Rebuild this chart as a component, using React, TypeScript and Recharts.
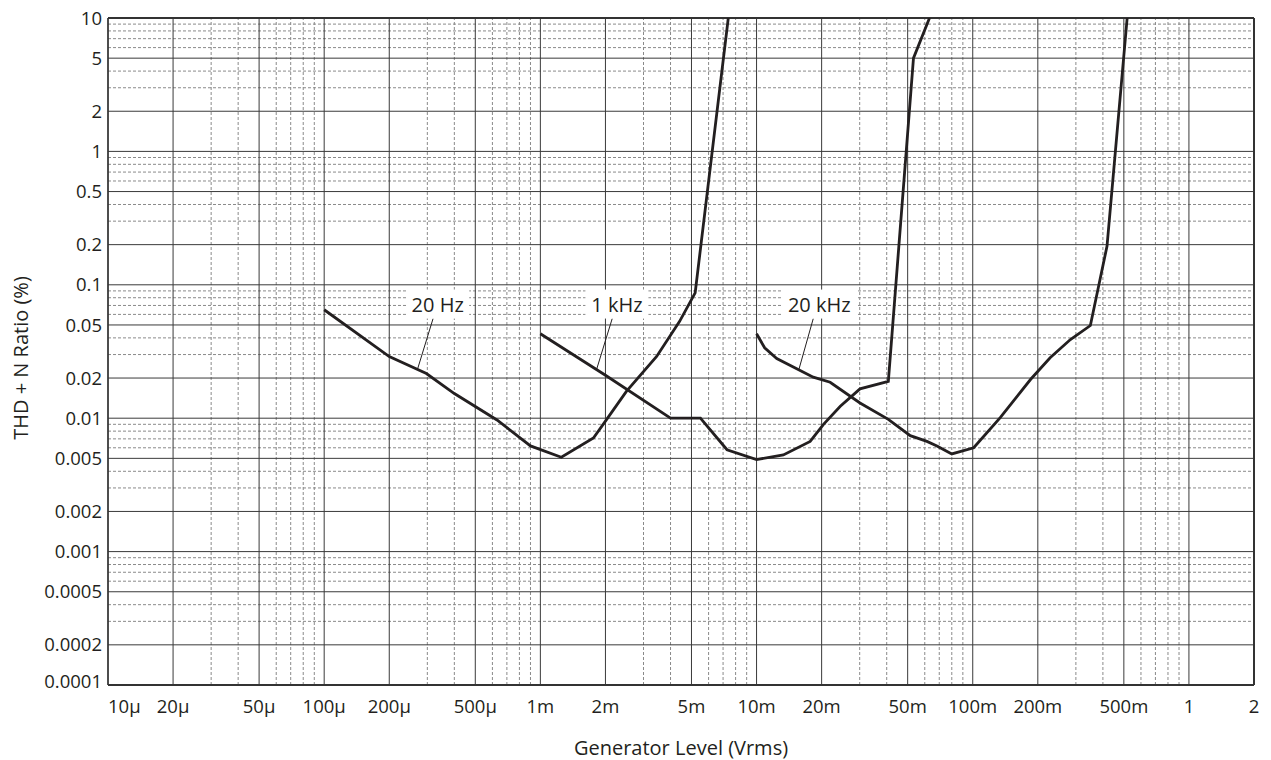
import React from "react";
import { LineChart, Line, XAxis, YAxis, ReferenceLine, ReferenceDot, Label } from "recharts";

// axis ticks (log-log)
const xTicks = [1e-5, 2e-5, 5e-5, 1e-4, 2e-4, 5e-4, 1e-3, 2e-3, 5e-3, 1e-2, 2e-2, 5e-2, 0.1, 0.2, 0.5, 1, 2];
const xTickLabels = ["10µ", "20µ", "50µ", "100µ", "200µ", "500µ", "1m", "2m", "5m", "10m", "20m", "50m", "100m", "200m", "500m", "1", "2"];
const yTicks = [1e-4, 2e-4, 5e-4, 1e-3, 2e-3, 5e-3, 0.01, 0.02, 0.05, 0.1, 0.2, 0.5, 1, 2, 5, 10];
const yTickLabels = ["0.0001", "0.0002", "0.0005", "0.001", "0.002", "0.005", "0.01", "0.02", "0.05", "0.1", "0.2", "0.5", "1", "2", "5", "10"];

// THD+N vs generator level
const level20Hz = [1e-4, 2e-4, 2.97e-4, 4e-4, 6.3e-4, 9e-4, 1.25e-3, 1.76e-3, 2e-3, 2.5e-3, 3.45e-3, 4.4e-3, 5.2e-3, 7.4e-3];
const thd20Hz = [0.065, 0.029, 0.0216, 0.0153, 0.0097, 0.0062, 0.0051, 0.0071, 0.0095, 0.0159, 0.029, 0.053, 0.087, 10];

const level1kHz = [1e-3, 2e-3, 4e-3, 5.5e-3, 7.3e-3, 1e-2, 1.33e-2, 1.77e-2, 2.04e-2, 2.44e-2, 3.01e-2, 4.07e-2, 5.32e-2, 6.31e-2];
const thd1kHz = [0.043, 0.021, 0.01, 0.01, 0.0058, 0.0049, 0.0053, 0.0067, 0.009, 0.0123, 0.0166, 0.0189, 5, 10];

const level20kHz = [1e-2, 1.09e-2, 1.24e-2, 1.83e-2, 2.19e-2, 3.01e-2, 4.07e-2, 5.14e-2, 6.14e-2, 6.83e-2, 8e-2, 0.101, 0.134, 0.185, 0.228, 0.283, 0.35, 0.418, 0.518];
const thd20kHz = [0.043, 0.0337, 0.028, 0.0203, 0.0186, 0.013, 0.0098, 0.0074, 0.0067, 0.0062, 0.0054, 0.006, 0.0101, 0.0195, 0.0284, 0.0389, 0.0495, 0.195, 10];

// curve labels: text, text position, leader line start/end
const curveNames = ["20 Hz", "1 kHz", "20 kHz"];
const labelX = [3.35e-4, 2.26e-3, 1.95e-2];
const labelY = [0.0711, 0.0711, 0.0711];
const leaderFromX = [3.19e-4, 2.15e-3, 1.83e-2];
const leaderToX = [2.7e-4, 1.82e-3, 1.57e-2];
const leaderFromY = 0.0559;
const leaderToY = 0.0232;

const toPoints = (xs: number[], ys: number[]) => xs.map((x, i) => ({ x, y: ys[i] }));
const series = [toPoints(level20Hz, thd20Hz), toPoints(level1kHz, thd1kHz), toPoints(level20kHz, thd20kHz)];

const FONT = "'Open Sans', sans-serif";
const INK = "#231f20";

// grid values per decade
const decadeValues = (e0: number, e1: number, steps: number[], lo: number, hi: number) => {
  const out: number[] = [];
  for (let e = e0; e <= e1; e++) {
    for (const m of steps) {
      const v = m * Math.pow(10, e);
      if (v >= lo * 0.9999 && v <= hi * 1.0001) out.push(v);
    }
  }
  return out;
};
const xMajor = decadeValues(-5, 0, [1, 2, 5], 1e-5, 2);
const xMinor = decadeValues(-5, 0, [3, 4, 6, 7, 8, 9], 1e-5, 2);
const yMajor = decadeValues(-4, 1, [1, 2, 5], 1e-4, 10);
const yMinor = decadeValues(-4, 1, [3, 4, 6, 7, 8, 9], 1e-4, 10);

const findIdx = (arr: number[], v: number) => arr.findIndex((t) => Math.abs(t - v) / t < 1e-6);

const XTick = (props: any) => {
  const { x, y, payload } = props;
  const i = findIdx(xTicks, payload.value);
  return (
    <text x={x} y={y + 28} textAnchor={i === 0 ? "start" : "middle"} fontSize={18.5} fontFamily={FONT} fill={INK}>
      {xTickLabels[i]}
    </text>
  );
};

const YTick = (props: any) => {
  const { x, y, payload } = props;
  const i = findIdx(yTicks, payload.value);
  return (
    <text x={x} y={i === 0 ? y - 4 : y} dy="0.355em" textAnchor="end" fontSize={18.5} fontFamily={FONT} fill={INK}>
      {yTickLabels[i]}
    </text>
  );
};

const CurveLabel = (text: string) => (props: any) => {
  const { cx, cy } = props;
  const w = text.length * 11 + 8;
  return (
    <g>
      <rect x={cx - w / 2} y={cy - 15} width={w} height={29} fill="#fff" />
      <text x={cx} y={cy} dy="0.355em" textAnchor="middle" fontSize={20} fontFamily={FONT} fill={INK}>
        {text}
      </text>
    </g>
  );
};

const App = () => {
  return (
    <div style={{ position: "absolute", left: 0, top: 0, background: "#fff" }}>
      <LineChart width={1271} height={760} margin={{ top: 18, right: 17, left: 8, bottom: 15 }}>
        <XAxis
          dataKey="x"
          type="number"
          scale="log"
          domain={[1e-5, 2]}
          allowDataOverflow
          ticks={xTicks}
          interval={0}
          tick={<XTick />}
          tickLine={false}
          tickSize={0}
          tickMargin={0}
          height={60}
          axisLine={{ stroke: "#333", strokeWidth: 2 }}
        >
          <Label
            content={() => (
              <text x={681} y={755} textAnchor="middle" fontSize={20} fontFamily={FONT} fill={INK}>
                Generator Level (Vrms)
              </text>
            )}
          />
        </XAxis>
        <YAxis
          dataKey="y"
          type="number"
          scale="log"
          domain={[1e-4, 10]}
          allowDataOverflow
          ticks={yTicks}
          interval={0}
          tick={<YTick />}
          tickLine={false}
          tickSize={0}
          tickMargin={6}
          width={100}
          axisLine={{ stroke: "#333", strokeWidth: 1.5 }}
        >
          <Label
            content={() => (
              <text x={28} y={358} transform="rotate(-90, 28, 358)" textAnchor="middle" fontSize={20} fontFamily={FONT} fill={INK}>
                THD + N Ratio (%)
              </text>
            )}
          />
        </YAxis>

        {xMinor.map((v) => (
          <ReferenceLine key={"xm" + v} x={v} stroke="#8a8a8a" strokeWidth={1} strokeDasharray="3 2" />
        ))}
        {yMinor.map((v) => (
          <ReferenceLine key={"ym" + v} y={v} stroke="#8a8a8a" strokeWidth={1} strokeDasharray="3 2" />
        ))}
        {xMajor.map((v) => (
          <ReferenceLine key={"xM" + v} x={v} stroke="#3a3a3a" strokeWidth={1} />
        ))}
        {yMajor.map((v) => (
          <ReferenceLine key={"yM" + v} y={v} stroke="#3a3a3a" strokeWidth={1} />
        ))}
        <ReferenceLine y={10} stroke="#333" strokeWidth={2} />
        <ReferenceLine x={2} stroke="#333" strokeWidth={2} />

        {series.map((d, i) => (
          <Line
            key={curveNames[i]}
            data={d}
            dataKey="y"
            type="linear"
            stroke={INK}
            strokeWidth={2.8}
            dot={false}
            isAnimationActive={false}
          />
        ))}

        {curveNames.map((name, i) => (
          <ReferenceLine
            key={"lead" + name}
            segment={[
              { x: leaderFromX[i], y: leaderFromY },
              { x: leaderToX[i], y: leaderToY },
            ]}
            stroke={INK}
            strokeWidth={1}
          />
        ))}
        {curveNames.map((name, i) => (
          <ReferenceDot key={"lab" + name} x={labelX[i]} y={labelY[i]} r={1} shape={CurveLabel(name)} />
        ))}
      </LineChart>
    </div>
  );
};

export default App;
